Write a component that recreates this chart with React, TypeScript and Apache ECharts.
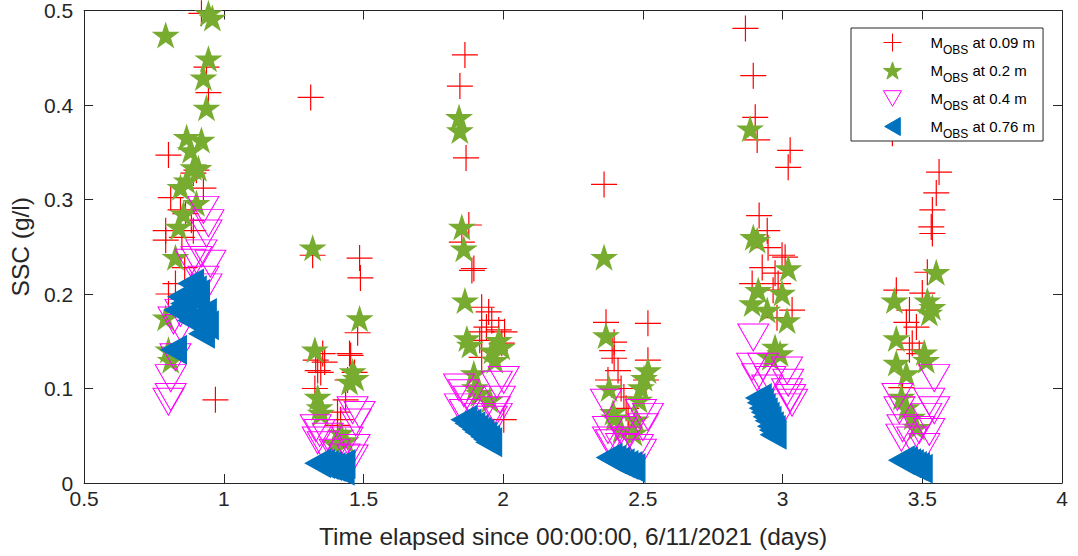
import React, { useEffect, useRef } from "react";
import * as echarts from "echarts";

// Observed SSC (g/l) vs time elapsed (days) at four heights
const mobs009: number[][] = [
  [0.92, 0.497], [0.938, 0.44], [0.945, 0.413], [0.802, 0.347], [0.891, 0.328], [0.902, 0.331],
  [0.927, 0.312], [0.81, 0.302], [0.845, 0.289], [0.863, 0.285], [0.884, 0.278], [0.792, 0.267],
  [0.891, 0.267], [0.792, 0.257], [0.85, 0.26], [0.86, 0.228], [0.827, 0.211], [0.802, 0.2], [0.97, 0.088],
  [1.311, 0.408], [1.318, 0.241], [1.486, 0.238], [1.489, 0.217], [1.479, 0.159], [1.354, 0.137],
  [1.45, 0.137], [1.329, 0.13], [1.361, 0.128], [1.336, 0.119], [1.468, 0.117], [1.443, 0.109],
  [1.326, 0.1], [1.436, 0.088], [1.407, 0.075], [1.418, 0.067], [1.407, 0.061], [1.347, 0.117], [1.454, 0.135],
  [1.863, 0.453], [1.845, 0.42], [1.867, 0.344], [1.877, 0.273], [1.852, 0.255], [1.895, 0.227],
  [1.888, 0.225], [1.923, 0.186], [1.948, 0.181], [1.959, 0.172], [1.984, 0.162], [1.923, 0.16],
  [2.005, 0.16], [1.916, 0.151], [1.995, 0.148], [1.923, 0.133], [2.002, 0.067], [1.97, 0.14], [1.94, 0.165],
  [2.361, 0.316], [2.368, 0.17], [2.518, 0.169], [2.397, 0.149], [2.397, 0.132], [2.518, 0.13],
  [2.411, 0.119], [2.375, 0.109], [2.511, 0.109], [2.422, 0.1], [2.432, 0.091], [2.44, 0.079],
  [2.447, 0.07], [2.45, 0.059], [2.39, 0.14],
  [2.867, 0.481], [2.895, 0.431], [2.902, 0.387], [2.909, 0.363], [3.027, 0.352], [3.02, 0.334],
  [2.916, 0.283], [2.945, 0.267], [2.948, 0.249], [2.998, 0.241], [3.009, 0.239], [2.927, 0.228],
  [2.973, 0.222], [2.891, 0.211], [2.984, 0.211], [2.966, 0.204], [3.034, 0.183], [2.98, 0.175],
  [3.393, 0.37], [3.56, 0.329], [3.55, 0.307], [3.536, 0.289], [3.532, 0.271], [3.536, 0.264],
  [3.518, 0.223], [3.407, 0.204], [3.5, 0.201], [3.454, 0.183], [3.443, 0.17], [3.479, 0.165],
  [3.464, 0.148], [3.454, 0.141], [3.489, 0.137], [3.425, 0.101], [3.429, 0.091],
];

const mobs020: number[][] = [
  [0.945, 0.497], [0.959, 0.492], [0.792, 0.474], [0.945, 0.449], [0.927, 0.429], [0.938, 0.397],
  [0.867, 0.366], [0.92, 0.363], [0.881, 0.352], [0.891, 0.334], [0.909, 0.333], [0.867, 0.32],
  [0.845, 0.313], [0.856, 0.285], [0.902, 0.296], [0.838, 0.271], [0.827, 0.239], [0.792, 0.175],
  [0.802, 0.141], [0.81, 0.13],
  [1.318, 0.249], [1.486, 0.174], [1.326, 0.141], [1.461, 0.118], [1.472, 0.111], [1.45, 0.107],
  [1.336, 0.091], [1.343, 0.08], [1.347, 0.074], [1.418, 0.053], [1.436, 0.045], [1.397, 0.042],
  [1.842, 0.387], [1.845, 0.373], [1.852, 0.271], [1.859, 0.248], [1.863, 0.193], [1.87, 0.153],
  [1.881, 0.146], [1.984, 0.151], [1.995, 0.144], [1.97, 0.13], [1.895, 0.116], [1.899, 0.101],
  [1.952, 0.088], [1.913, 0.095], [1.96, 0.14],
  [2.361, 0.239], [2.368, 0.156], [2.518, 0.119], [2.504, 0.111], [2.379, 0.1], [2.493, 0.101],
  [2.486, 0.088], [2.393, 0.075], [2.397, 0.069], [2.475, 0.067], [2.422, 0.056], [2.468, 0.053],
  [2.884, 0.375], [2.895, 0.26], [2.909, 0.257], [3.02, 0.227], [2.913, 0.204], [2.891, 0.19],
  [2.945, 0.183], [2.998, 0.201], [3.016, 0.172], [2.973, 0.144], [2.991, 0.137], [2.956, 0.133],
  [3.55, 0.223], [3.4, 0.193], [3.518, 0.193], [3.536, 0.186], [3.525, 0.18], [3.407, 0.153],
  [3.507, 0.138], [3.407, 0.127], [3.514, 0.13], [3.443, 0.116], [3.425, 0.091], [3.443, 0.08],
  [3.464, 0.07], [3.479, 0.059],
];

const mobs040: number[][] = [
  [0.927, 0.289], [0.945, 0.275], [0.938, 0.264], [0.92, 0.243], [0.952, 0.232], [0.902, 0.236],
  [0.881, 0.233], [0.927, 0.215], [0.938, 0.207], [0.845, 0.18], [0.82, 0.172], [0.845, 0.164],
  [0.827, 0.133], [0.81, 0.111], [0.81, 0.091], [0.802, 0.086],
  [1.461, 0.077], [1.486, 0.072], [1.472, 0.064], [1.329, 0.058], [1.343, 0.053], [1.372, 0.049],
  [1.336, 0.045], [1.354, 0.04], [1.443, 0.045], [1.468, 0.037], [1.461, 0.026], [1.432, 0.027], [1.397, 0.032],
  [1.977, 0.104], [2.002, 0.109], [1.842, 0.101], [1.859, 0.095], [1.845, 0.08], [1.877, 0.088],
  [1.863, 0.074], [1.988, 0.088], [1.97, 0.077], [1.977, 0.07], [1.959, 0.067], [1.916, 0.07],
  [2.368, 0.085], [2.493, 0.074], [2.518, 0.07], [2.375, 0.056], [2.422, 0.056], [2.5, 0.059],
  [2.386, 0.042], [2.422, 0.038], [2.482, 0.037], [2.375, 0.045], [2.493, 0.032], [2.44, 0.045],
  [2.895, 0.154], [2.891, 0.123], [2.93, 0.123], [3.016, 0.119], [2.909, 0.112], [2.956, 0.109],
  [3.02, 0.106], [2.945, 0.1], [3.016, 0.096], [3.027, 0.09], [3.009, 0.08], [3.034, 0.085],
  [3.543, 0.111], [3.411, 0.091], [3.525, 0.086], [3.418, 0.077], [3.543, 0.077], [3.514, 0.07],
  [3.429, 0.058], [3.489, 0.056], [3.525, 0.054], [3.425, 0.048], [3.464, 0.045], [3.507, 0.038],
];

const mobs076: number[][] = [
  [0.881, 0.211], [0.891, 0.204], [0.902, 0.2], [0.845, 0.197], [0.902, 0.193], [0.856, 0.19],
  [0.831, 0.183], [0.881, 0.172], [0.927, 0.18], [0.934, 0.167], [0.92, 0.158], [0.82, 0.141],
  [1.336, 0.021], [1.35, 0.02], [1.363, 0.019], [1.375, 0.018], [1.388, 0.017], [1.4, 0.016],
  [1.41, 0.015], [1.42, 0.013], [1.423, 0.02],
  [1.859, 0.067], [1.874, 0.063], [1.888, 0.06], [1.899, 0.057], [1.909, 0.054], [1.92, 0.052],
  [1.93, 0.049], [1.941, 0.046], [1.948, 0.043],
  [2.379, 0.027], [2.393, 0.025], [2.407, 0.023], [2.422, 0.021], [2.436, 0.019], [2.45, 0.018], [2.461, 0.016],
  [2.913, 0.09], [2.92, 0.085], [2.927, 0.079], [2.934, 0.075], [2.941, 0.07], [2.948, 0.066],
  [2.956, 0.06], [2.963, 0.056], [2.966, 0.051],
  [3.425, 0.024], [3.436, 0.023], [3.447, 0.021], [3.457, 0.02], [3.468, 0.018], [3.479, 0.017], [3.489, 0.015],
];

const seriesNames = ["M_OBS at 0.09 m", "M_OBS at 0.2 m", "M_OBS at 0.4 m", "M_OBS at 0.76 m"];
const xRange = [0.5, 4];
const yRange = [0, 0.5];

const PLUS = "path://M0,10L20,10M10,0L10,20";
const STAR = "path://M50,0L61.2,34.5L97.6,34.5L68.2,55.9L79.4,90.5L50,69.1L20.6,90.5L31.8,55.9L2.4,34.5L38.8,34.5Z";
const TRI_DOWN = "path://M0,0L20,0L10,17.32Z";
const TRI_LEFT = "path://M0,10L17.32,0L17.32,20Z";

const FONT = "Liberation Sans, Arial, Helvetica, sans-serif";
const AX = "#262626";

export default function App() {
  const ref = useRef<HTMLDivElement>(null);
  useEffect(() => {
    if (!ref.current) return;
    const chart = echarts.init(ref.current, null, { renderer: "svg" });
    const axisLine = { show: true, onZero: false, lineStyle: { color: AX, width: 1 } };
    const axisTick = { show: true, inside: true, length: 9, lineStyle: { color: AX, width: 1 } };
    const option: any = {
      animation: false,
      backgroundColor: "#ffffff",
      grid: { left: 80, right: 16, top: 10, bottom: 73, containLabel: false },
      xAxis: [
        {
          type: "value", min: xRange[0], max: xRange[1], interval: 0.5, position: "bottom",
          name: "Time elapsed since 00:00:00, 6/11/2021 (days)", nameLocation: "middle", nameGap: 41,
          nameTextStyle: { fontSize: 24.5, color: AX, fontFamily: FONT },
          axisLine, axisTick,
          axisLabel: { fontSize: 21, color: AX, fontFamily: FONT, margin: 5 },
          splitLine: { show: false },
        },
        {
          type: "value", min: xRange[0], max: xRange[1], interval: 0.5, position: "top",
          axisLine, axisTick, axisLabel: { show: false }, splitLine: { show: false },
        },
      ],
      yAxis: [
        {
          type: "value", min: yRange[0], max: yRange[1], interval: 0.1, position: "left",
          name: "SSC (g/l)", nameLocation: "middle", nameGap: 44, nameRotate: 90,
          nameTextStyle: { fontSize: 24.5, color: AX, fontFamily: FONT },
          axisLine, axisTick,
          axisLabel: { fontSize: 21, color: AX, fontFamily: FONT, margin: 11 },
          splitLine: { show: false },
        },
        {
          type: "value", min: yRange[0], max: yRange[1], interval: 0.1, position: "right",
          axisLine, axisTick, axisLabel: { show: false }, splitLine: { show: false },
        },
      ],
      legend: {
        orient: "vertical", left: 851, top: 28,
        backgroundColor: "#ffffff", borderColor: AX, borderWidth: 1, borderRadius: 0,
        padding: [1, 8, 1, 30], itemWidth: 18, itemHeight: 18, itemGap: 1,
        itemStyle: { borderWidth: 1 },
        data: seriesNames,
        formatter: (name: string) => `{m|M}{s|OBS}{t| at ${name.split(" at ")[1]}}`,
        textStyle: {
          fontFamily: FONT, color: "#000",
          rich: {
            m: { fontSize: 15, fontFamily: FONT, color: "#000", lineHeight: 27, verticalAlign: "middle", padding: [0, 0, 0, 24] },
            s: { fontSize: 12, fontFamily: FONT, color: "#000", lineHeight: 12, padding: [15, 0, 0, 0], verticalAlign: "top" },
            t: { fontSize: 15, fontFamily: FONT, color: "#000", lineHeight: 27, verticalAlign: "middle" },
          },
        },
      },
      series: [
        {
          type: "scatter", name: seriesNames[0], data: mobs009, symbol: PLUS, symbolSize: [26, 26],
          itemStyle: { color: "none", borderColor: "#FF0000", borderWidth: 1.2, opacity: 1 }, z: 2,
        },
        {
          type: "scatter", name: seriesNames[1], data: mobs020, symbol: STAR, symbolSize: [28, 27],
          itemStyle: { color: "#77AC30", borderColor: "#77AC30", borderWidth: 0, opacity: 1 }, z: 3,
        },
        {
          type: "scatter", name: seriesNames[2], data: mobs040, symbol: TRI_DOWN, symbolSize: [31, 27],
          itemStyle: { color: "none", borderColor: "#FF00FF", borderWidth: 1, opacity: 1 }, z: 4,
        },
        {
          type: "scatter", name: seriesNames[3], data: mobs076, symbol: TRI_LEFT, symbolSize: [27, 30],
          itemStyle: { color: "#0072BD", borderColor: "#0072BD", borderWidth: 0, opacity: 1 }, z: 5,
        },
      ],
    };
    chart.setOption(option);
    return () => chart.dispose();
  }, []);
  return (
    <div
      ref={ref}
      style={{ position: "fixed", left: 0, top: 0, width: 1078, height: 556, background: "#fff" }}
    />
  );
}
